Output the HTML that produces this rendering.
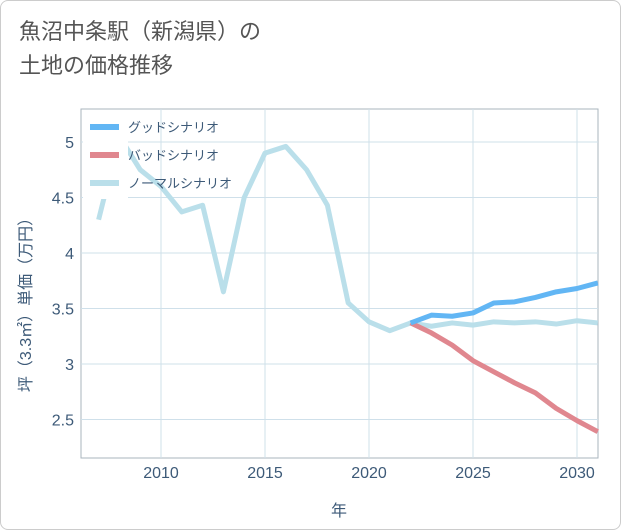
<!DOCTYPE html>
<html><head><meta charset="utf-8"><style>
body{margin:0;background:#fff;font-family:"Liberation Sans","Noto Sans CJK JP",sans-serif}
#wrap{position:relative;width:619px;height:528px;border:1px solid #ccc;border-radius:8px;background:#fff;overflow:hidden}
.title{position:absolute;left:18px;top:14px;font-size:22px;line-height:34px;color:#555}
</style></head><body>
<div id="wrap">
<div class="title">魚沼中条駅（新潟県）の<br>土地の価格推移</div>
<svg id="svg" width="621" height="530" style="position:absolute;left:0;top:0"></svg>
</div>
<script>
const years=[2007,2008,2009,2010,2011,2012,2013,2014,2015,2016,2017,2018,2019,2020,2021,2022,2023,2024,2025,2026,2027,2028,2029,2030,2031];
const normal=[4.3,5.05,4.75,4.6,4.37,4.43,3.65,4.5,4.9,4.96,4.75,4.43,3.55,3.38,3.3,3.37,3.34,3.37,3.35,3.38,3.37,3.38,3.36,3.39,3.37];
const goodYears=[2022,2023,2024,2025,2026,2027,2028,2029,2030,2031];
const good=[3.37,3.44,3.43,3.46,3.55,3.56,3.6,3.65,3.68,3.73];
const bad=[3.37,3.28,3.17,3.03,2.93,2.83,2.74,2.6,2.49,2.39];
const xTicks=[2010,2015,2020,2025,2030];
const yTicks=[2.5,3,3.5,4,4.5,5];
const NS="http://www.w3.org/2000/svg";
const svg=document.getElementById('svg');
const L=80,R=597,T=108,B=457;
const x=v=>160+(v-2010)*20.8;
const y=v=>141+(5-v)*111;
function mk(t,a){const e=document.createElementNS(NS,t);for(const k in a)e.setAttribute(k,a[k]);svg.appendChild(e);return e;}
const bg=mk('rect',{x:L,y:T,width:R-L,height:B-T,fill:'#fff',stroke:'#aab4be'});


xTicks.forEach(t=>{const l=mk('line',{x1:x(t),x2:x(t),y1:T,y2:B,stroke:'#cfe0ea'});


const tx=mk('text',{x:x(t),y:477,'text-anchor':'middle','font-size':16,fill:'#3d5a78'});tx.textContent=t;

});
yTicks.forEach(t=>{const l=mk('line',{x1:L,x2:R,y1:y(t),y2:y(t),stroke:'#cfe0ea'});


const tx=mk('text',{x:73,y:y(t)+6,'text-anchor':'end','font-size':16,fill:'#3d5a78'});tx.textContent=t;

});
const xt=mk('text',{x:338,y:515,'text-anchor':'middle','font-size':16,fill:'#3d5a78'});xt.textContent='年';


const yt=mk('text',{x:0,y:0,'text-anchor':'middle','font-size':16,fill:'#3d5a78',transform:'translate(30,300) rotate(-90)'});yt.textContent='坪（3.3㎡）単価（万円）';


function line(xs,vs,c,name){const p=mk('polyline',{points:xs.map((v,i)=>x(v)+','+y(vs[i])).join(' '),fill:'none',stroke:c,'stroke-width':5,'stroke-linejoin':'round'});

}
line(years,normal,'#badfea','normal-scenario-line');
line(goodYears,bad,'#e0878f','bad-scenario-line');
line(goodYears,good,'#62b6f4','good-scenario-line');
const lb=mk('rect',{x:82,y:110,width:45,height:88,fill:'#fff'});


[['グッドシナリオ','#62b6f4',126],['バッドシナリオ','#e0878f',154],['ノーマルシナリオ','#badfea',182]].forEach(([t,c,yy])=>{
const s=mk('line',{x1:89,x2:118,y1:yy,y2:yy,stroke:c,'stroke-width':6});


const tx=mk('text',{x:127,y:yy+5,'font-size':13,fill:'#3d5a78'});tx.textContent=t;

});
</script>
</body></html>
